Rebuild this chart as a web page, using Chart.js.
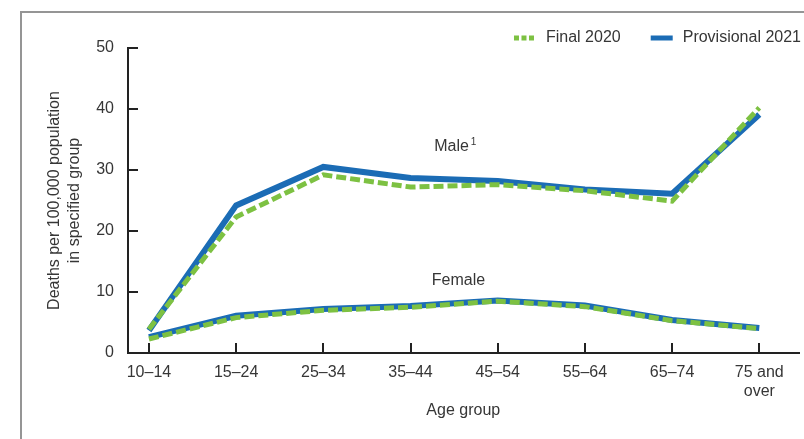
<!DOCTYPE html>
<html>
<head>
<meta charset="utf-8">
<script src="https://cdn.jsdelivr.net/npm/chart.js@4.4.1/dist/chart.umd.min.js"></script>
<style>
  html, body { margin: 0; padding: 0; background: #fff; }
  #wrap { position: relative; width: 804px; height: 439px; overflow: hidden; }
  #frame { position: absolute; left: 20px; top: 11px; right: -10px; bottom: -10px;
           border-left: 2px solid #959595; border-top: 2px solid #959595; }
  canvas { position: absolute; left: 0; top: 0; }
</style>
</head>
<body>
<div id="wrap"><div id="frame"></div><canvas id="chart" width="804" height="439"></canvas></div>
<script>
const AGE_GROUPS = ['10–14', '15–24', '25–34', '35–44', '45–54', '55–64', '65–74', ['75 and', 'over']];
const MALE_2020 = [3.9, 22.3, 29.2, 27.2, 27.6, 26.6, 24.9, 40.2];
const MALE_2021 = [3.7, 24.2, 30.5, 28.7, 28.2, 26.8, 26.1, 39.1];
const FEMALE_2020 = [2.3, 5.8, 7.0, 7.5, 8.5, 7.6, 5.3, 4.0];
const FEMALE_2021 = [2.6, 6.1, 7.2, 7.7, 8.6, 7.8, 5.4, 4.1];
const Y_TICKS = [0, 10, 20, 30, 40, 50];

const GREEN = '#7dc142';
const BLUE = '#1b6cb5';
const TEXT = '#363636';
const AXIS = '#222';
const FONT = '"Liberation Sans", Arial, sans-serif';

function series(label, values, color, dashed) {
  return {
    label,
    data: values.map((y, i) => ({ x: i, y })),
    borderColor: color,
    backgroundColor: color,
    borderWidth: dashed ? 5 : 6,
    borderDash: dashed ? [10, 4] : [],
    borderJoinStyle: 'miter',
    borderCapStyle: 'butt',
    pointRadius: 0,
    tension: 0,
    order: dashed ? 1 : 2,
  };
}

// group labels placed in data units
const GROUP_LABELS = [
  { text: 'Male', sup: '1', x: 3.47, y: 33.8 },
  { text: 'Female', x: 3.55, y: 11.8 },
];

const groupLabels = {
  id: 'groupLabels',
  afterDatasetsDraw(chart) {
    const { ctx, scales: { x, y } } = chart;
    ctx.save();
    ctx.fillStyle = TEXT;
    ctx.textBaseline = 'middle';
    GROUP_LABELS.forEach((item) => {
      ctx.font = `16px ${FONT}`;
      const w = ctx.measureText(item.text).width;
      const px = x.getPixelForValue(item.x);
      const py = y.getPixelForValue(item.y);
      ctx.textAlign = 'left';
      ctx.fillText(item.text, px - w / 2, py);
      if (item.sup) {
        ctx.font = `10px ${FONT}`;
        ctx.fillText(item.sup, px + w / 2 + 2, py - 5);
      }
    });
    ctx.restore();
  },
};

// legend drawn from the dataset styles, right aligned at the top
const LEGEND = [
  { text: 'Final 2020', dataset: 0, dash: [5, 2.5] },
  { text: 'Provisional 2021', dataset: 2, dash: [] },
];

const topLegend = {
  id: 'topLegend',
  afterDraw(chart) {
    const { ctx } = chart;
    const sample = 22;
    const gap = 10;
    const spacing = 30;
    const cy = 38;
    ctx.save();
    ctx.font = `16px ${FONT}`;
    ctx.textBaseline = 'middle';
    let right = chart.width - 3;
    [...LEGEND].reverse().forEach((item) => {
      const ds = chart.data.datasets[item.dataset];
      const tw = ctx.measureText(item.text).width;
      const tx = right - tw;
      const sx = tx - gap - sample;
      ctx.fillStyle = TEXT;
      ctx.textAlign = 'left';
      ctx.fillText(item.text, tx, cy);
      ctx.strokeStyle = ds.borderColor;
      ctx.lineWidth = 5;
      ctx.setLineDash(item.dash);
      ctx.beginPath();
      ctx.moveTo(sx, cy);
      ctx.lineTo(sx + sample, cy);
      ctx.stroke();
      ctx.setLineDash([]);
      right = sx - spacing;
    });
    ctx.restore();
  },
};

const tickFont = { family: FONT, size: 16 };

new Chart(document.getElementById('chart'), {
  type: 'line',
  data: {
    datasets: [
      series('Final 2020', MALE_2020, GREEN, true),
      series('Final 2020', FEMALE_2020, GREEN, true),
      series('Provisional 2021', MALE_2021, BLUE, false),
      series('Provisional 2021', FEMALE_2021, BLUE, false),
    ],
  },
  options: {
    responsive: false,
    animation: false,
    layout: { padding: { left: 0, right: 4, top: 48, bottom: 0 } },
    plugins: { legend: { display: false }, tooltip: { enabled: false } },
    scales: {
      x: {
        type: 'linear',
        min: -0.24,
        max: 7.45,
        afterBuildTicks: (scale) => { scale.ticks = AGE_GROUPS.map((_, i) => ({ value: i })); },
        afterFit: (scale) => { scale.height = 86; },
        ticks: {
          callback: (value) => AGE_GROUPS[value],
          font: tickFont,
          color: TEXT,
          padding: 20,
          maxRotation: 0,
          autoSkip: false,
        },
        grid: { drawOnChartArea: false, tickLength: -10, color: AXIS, lineWidth: 2 },
        border: { color: AXIS, width: 2 },
        title: {
          display: true,
          text: 'Age group',
          color: TEXT,
          font: { family: FONT, size: 16, lineHeight: 1.25 },
          padding: { top: 0, bottom: 18 },
        },
      },
      y: {
        min: 0,
        max: 50,
        afterBuildTicks: (scale) => { scale.ticks = Y_TICKS.map((value) => ({ value })); },
        afterFit: (scale) => { scale.width = 128; },
        ticks: { font: tickFont, color: TEXT, padding: 24 },
        grid: { drawOnChartArea: false, tickLength: -10, color: AXIS, lineWidth: 2 },
        border: { color: AXIS, width: 2 },
        title: {
          display: true,
          text: ['Deaths per 100,000 population', 'in specified group'],
          color: TEXT,
          font: { family: FONT, size: 16, lineHeight: 1.25 },
          padding: { top: 45, bottom: 0 },
        },
      },
    },
  },
  plugins: [groupLabels, topLegend],
});
</script>
</body>
</html>
